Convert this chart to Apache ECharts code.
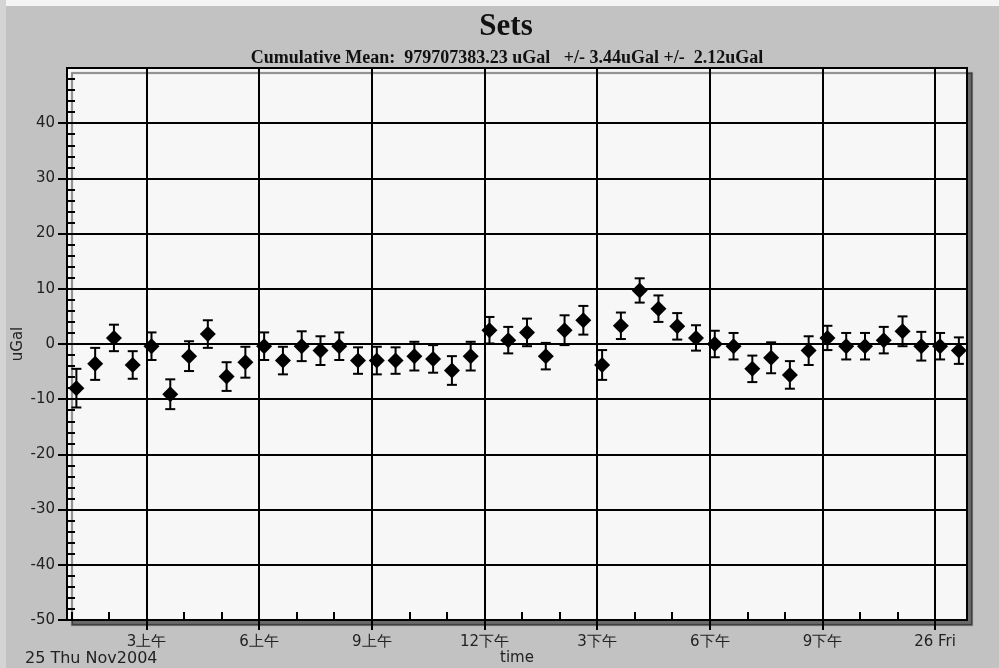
<!DOCTYPE html>
<html>
<head>
<meta charset="utf-8">
<script src="https://cdn.jsdelivr.net/npm/echarts@6/dist/echarts.min.js"></script>
<style>html,body{margin:0;padding:0;background:#c2c2c2;}#c{width:999px;height:668px;}</style>
</head>
<body>
<div id="c"></div>
<script>
// ---- data ----
var titleText = 'Sets';
var subtitleText = 'Cumulative Mean:  979707383.23 uGal   +/- 3.44uGal +/-  2.12uGal';
var dateLabel = '25 Thu Nov2004';
var times = [
 '2004-11-25 01:08','2004-11-25 01:38','2004-11-25 02:08','2004-11-25 02:38','2004-11-25 03:08','2004-11-25 03:38',
 '2004-11-25 04:08','2004-11-25 04:38','2004-11-25 05:08','2004-11-25 05:38','2004-11-25 06:08','2004-11-25 06:38',
 '2004-11-25 07:08','2004-11-25 07:38','2004-11-25 08:08','2004-11-25 08:38','2004-11-25 09:08','2004-11-25 09:38',
 '2004-11-25 10:08','2004-11-25 10:38','2004-11-25 11:08','2004-11-25 11:38','2004-11-25 12:08','2004-11-25 12:38',
 '2004-11-25 13:08','2004-11-25 13:38','2004-11-25 14:08','2004-11-25 14:38','2004-11-25 15:08','2004-11-25 15:38',
 '2004-11-25 16:08','2004-11-25 16:38','2004-11-25 17:08','2004-11-25 17:38','2004-11-25 18:08','2004-11-25 18:38',
 '2004-11-25 19:08','2004-11-25 19:38','2004-11-25 20:08','2004-11-25 20:38','2004-11-25 21:08','2004-11-25 21:38',
 '2004-11-25 22:08','2004-11-25 22:38','2004-11-25 23:08','2004-11-25 23:38','2004-11-26 00:08','2004-11-26 00:38'
];
var values = [
 -8.0, -3.6, 1.1, -3.8, -0.4, -9.1, -2.2, 1.8, -5.9, -3.3, -0.4, -3.0,
 -0.4, -1.2, -0.4, -3.0, -3.0, -3.0, -2.2, -2.7, -4.8, -2.2, 2.5, 0.7,
 2.1, -2.2, 2.5, 4.3, -3.8, 3.3, 9.7, 6.4, 3.2, 1.1, 0.0, -0.4,
 -4.5, -2.5, -5.6, -1.2, 1.1, -0.4, -0.4, 0.7, 2.3, -0.4, -0.4, -1.2
];
var errors = [
 3.5, 2.9, 2.4, 2.5, 2.5, 2.7, 2.7, 2.5, 2.6, 2.8, 2.5, 2.5,
 2.7, 2.6, 2.5, 2.4, 2.5, 2.4, 2.6, 2.5, 2.6, 2.6, 2.4, 2.4,
 2.5, 2.4, 2.7, 2.6, 2.7, 2.4, 2.2, 2.4, 2.4, 2.3, 2.4, 2.4,
 2.4, 2.8, 2.5, 2.6, 2.2, 2.4, 2.4, 2.4, 2.7, 2.6, 2.4, 2.4
];
var xMinTime = '2004-11-25 00:53';
var xMaxTime = '2004-11-26 00:51';
var majorTickHours = [3, 6, 9, 12, 15, 18, 21, 24];
var majorTickLabels = ['3上午', '6上午', '9上午', '12下午', '3下午', '6下午', '9下午', '26 Fri'];
var minorTickHours = [1, 2, 4, 5, 7, 8, 10, 11, 13, 14, 16, 17, 19, 20, 22, 23];
var yMin = -50, yMax = 50, yStep = 10, yMinorStep = 2;

// ---- helpers ----
var base = new Date(2004, 10, 25, 0, 0).getTime();
function toHours(s) {
  var p = s.split(' '), d = p[0].split('-'), t = p[1].split(':');
  return (new Date(+d[0], +d[1] - 1, +d[2], +t[0], +t[1]).getTime() - base) / 3600000;
}
var xs = times.map(toHours);
var pts = xs.map(function (x, i) { return [x, values[i]]; });
var bars = xs.map(function (x, i) { return [x, values[i] - errors[i], values[i] + errors[i]]; });

var sansFont = 'DejaVu Sans';
var chart = echarts.init(document.getElementById('c'), null, { renderer: 'canvas' });
chart.setOption({
  backgroundColor: '#c2c2c2',
  animation: false,
  title: [
    { text: titleText, left: 501, textAlign: 'center', top: 6,
      textStyle: { fontFamily: 'Liberation Serif', fontSize: 31, fontWeight: 'bold', color: '#111' } },
    { text: subtitleText, left: 502, textAlign: 'center', top: 44,
      textStyle: { fontFamily: 'Liberation Serif', fontSize: 18, fontWeight: 'bold', color: '#111' } }
  ],
  graphic: [
    { type: 'rect', left: 0, top: 0, z: -10, shape: { width: 999, height: 6 }, style: { fill: '#f4f4f4' } },
    { type: 'rect', left: 0, top: 0, z: -10, shape: { width: 6, height: 668 }, style: { fill: '#d4d4d4' } },
    { type: 'text', left: 25, top: 651,
      style: { text: dateLabel, font: '16px "DejaVu Sans"', fill: '#222' } }
  ],
  grid: {
    left: 67, right: 32, top: 68, bottom: 48,
    containLabel: false, outerBoundsMode: 'none',
    show: true, backgroundColor: '#f7f7f7', borderColor: '#000', borderWidth: 2,
    shadowColor: 'rgba(0,0,0,0.45)', shadowOffsetX: 5, shadowOffsetY: 5, shadowBlur: 1
  },
  xAxis: [
    { type: 'value', min: toHours(xMinTime), max: toHours(xMaxTime), position: 'bottom',
      name: 'time', nameLocation: 'middle', nameGap: 31, nameMoveOverlap: false,
      nameTextStyle: { fontFamily: sansFont, fontSize: 15, color: '#222' },
      axisLine: { show: true, onZero: false, lineStyle: { color: '#000', width: 2 } },
      axisTick: { show: true, customValues: majorTickHours, length: 10, lineStyle: { color: '#000', width: 2 } },
      axisLabel: { customValues: majorTickHours, margin: 15, fontFamily: sansFont, fontSize: 15, color: '#222',
        formatter: function (v) { var i = majorTickHours.indexOf(Math.round(v)); return i >= 0 ? majorTickLabels[i] : ''; } },
      splitLine: { show: true, lineStyle: { color: '#000', width: 2 } } },
    { type: 'value', min: toHours(xMinTime), max: toHours(xMaxTime), position: 'bottom',
      axisLine: { show: false, onZero: false },
      axisTick: { show: true, inside: true, customValues: minorTickHours, length: 8, lineStyle: { color: '#000', width: 2 } },
      axisLabel: { show: false }, splitLine: { show: false } }
  ],
  yAxis: [
    { type: 'value', min: yMin, max: yMax, interval: yStep, position: 'left',
      name: 'uGal', nameLocation: 'middle', nameGap: 41, nameMoveOverlap: false,
      nameTextStyle: { fontFamily: sansFont, fontSize: 15, color: '#222' },
      axisLine: { show: true, onZero: false, lineStyle: { color: '#000', width: 2 } },
      axisTick: { show: true, length: 9, lineStyle: { color: '#000', width: 2 } },
      axisLabel: { margin: 12, showMaxLabel: false, fontFamily: sansFont, fontSize: 15, color: '#222' },
      splitLine: { show: true, lineStyle: { color: '#000', width: 2 } } },
    { type: 'value', min: yMin, max: yMax, interval: yMinorStep, position: 'left',
      axisLine: { show: false, onZero: false },
      axisTick: { show: true, inside: true, length: 8, lineStyle: { color: '#000', width: 2 } },
      axisLabel: { show: false }, splitLine: { show: false } }
  ],
  series: [
    { type: 'custom', xAxisIndex: 0, yAxisIndex: 0, data: bars, z: 3,
      renderItem: function (params, api) {
        var x = api.value(0);
        var lo = api.coord([x, api.value(1)]);
        var hi = api.coord([x, api.value(2)]);
        var hw = 5;
        var st = { stroke: '#000', lineWidth: 2 };
        return { type: 'group', children: [
          { type: 'line', shape: { x1: lo[0], y1: lo[1], x2: hi[0], y2: hi[1] }, style: st },
          { type: 'line', shape: { x1: hi[0] - hw, y1: hi[1], x2: hi[0] + hw, y2: hi[1] }, style: st },
          { type: 'line', shape: { x1: lo[0] - hw, y1: lo[1], x2: lo[0] + hw, y2: lo[1] }, style: st }
        ] };
      } },
    { type: 'scatter', xAxisIndex: 0, yAxisIndex: 0, data: pts, z: 4,
      symbol: 'diamond', symbolSize: [16, 16], itemStyle: { color: '#000', opacity: 1 } }
  ]
});
</script>
</body>
</html>
